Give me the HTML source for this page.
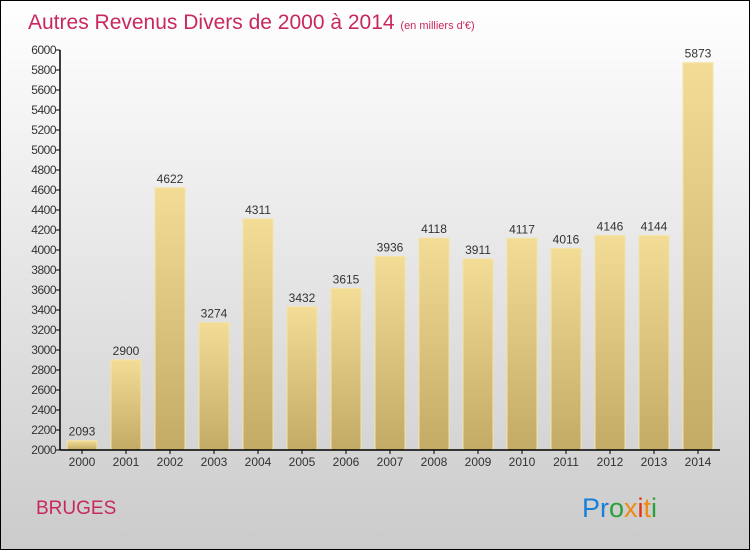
<!DOCTYPE html>
<html><head><meta charset="utf-8"><style>
body{margin:0}
#wrap{width:748px;height:548px;border:1px solid #000;background:linear-gradient(#fff,#cbcbcb);position:relative;font-family:"Liberation Sans",sans-serif;overflow:hidden}
svg{position:absolute;left:-1px;top:-1px}
</style></head><body>
<div id="wrap">
<svg id="c" width="750" height="550">
<defs><linearGradient id="g" x1="0" y1="0" x2="0" y2="1"><stop offset="0" stop-color="#f3dc95"/><stop offset="1" stop-color="#c3ab66"/></linearGradient></defs>
<text x="28" y="29" font-size="21" fill="#c8285e">Autres Revenus Divers de 2000 à 2014 <tspan font-size="11">(en milliers d'€)</tspan></text>
<text x="36" y="514" font-size="19" fill="#c8285e">BRUGES</text>
<g font-size="27" font-family="Liberation Sans, sans-serif"><text x="582" y="517"><tspan fill="#1a7fd6">Pr</tspan><tspan fill="#2aa03c">o</tspan><tspan fill="#f08a10">x</tspan><tspan fill="#e83010">i</tspan><tspan fill="#f08a10">t</tspan><tspan fill="#2aa03c">i</tspan></text></g>
</svg></div>
<script>
const categories=["2000","2001","2002","2003","2004","2005","2006","2007","2008","2009","2010","2011","2012","2013","2014"];
const values=[2093,2900,4622,3274,4311,3432,3615,3936,4118,3911,4117,4016,4146,4144,5873];
const ticks=[2000,2200,2400,2600,2800,3000,3200,3400,3600,3800,4000,4200,4400,4600,4800,5000,5200,5400,5600,5800,6000];
const svg=document.getElementById('c');const NS='http://www.w3.org/2000/svg';
const x0=60,slot=44,yMin=2000,yMax=6000,plotTop=50,bot=450;
const y=v=>bot-(v-yMin)/(yMax-yMin)*(bot-plotTop);
function mk(t,a){const e=document.createElementNS(NS,t);for(const k in a)e.setAttribute(k,a[k]);svg.appendChild(e);return e;}
values.forEach((v,i)=>{
const r=mk('rect',{x:x0+i*slot+7,y:y(v),width:30,height:bot-y(v),fill:'url(#g)',stroke:'#f5e3a8','stroke-width':1});


const t=mk('text',{x:x0+i*slot+22,y:y(v)-5,'font-size':12,fill:'#333','text-anchor':'middle'});t.textContent=v;


const c=mk('text',{x:x0+i*slot+22,y:466,'font-size':12,fill:'#333','text-anchor':'middle'});c.textContent=categories[i];


mk('line',{x1:x0+i*slot+22,x2:x0+i*slot+22,y1:bot,y2:bot+4,stroke:'#000'});
});
ticks.forEach(v=>{
mk('line',{x1:x0-4,x2:x0,y1:y(v),y2:y(v),stroke:'#000'});
const t=mk('text',{x:x0-4,y:y(v)+4,'font-size':12,fill:'#333','text-anchor':'end','letter-spacing':'-0.5'});t.textContent=v;


});
const ax=mk('line',{x1:x0,x2:x0,y1:plotTop,y2:bot,stroke:'#000','stroke-width':1.5});


const bx=mk('line',{x1:x0,x2:x0+categories.length*slot,y1:bot,y2:bot,stroke:'#000','stroke-width':1.5});


</script>
</body></html>
